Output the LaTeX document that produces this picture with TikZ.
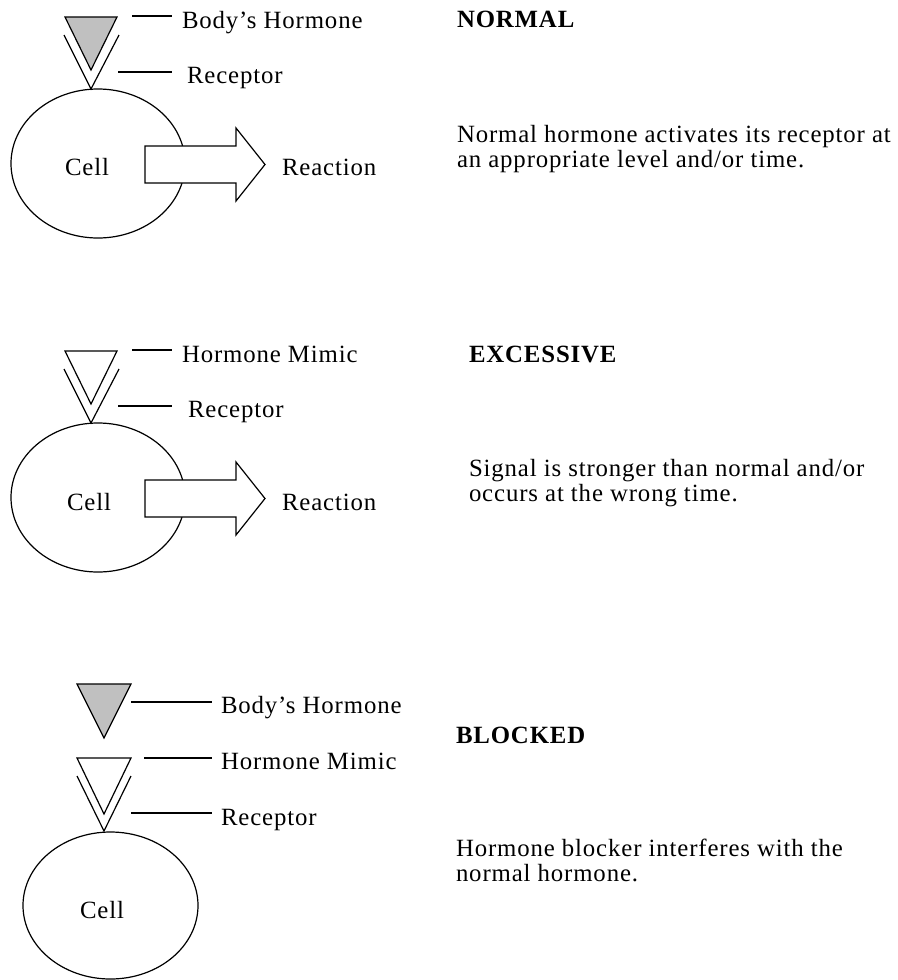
\documentclass[tikz,border=0pt]{standalone}
\usepackage{fontspec}
\setmainfont{Liberation Serif}[LetterSpace=3.5]
\usetikzlibrary{shapes.geometric}
\definecolor{hgray}{RGB}{192,192,192}
\begin{document}
\begin{tikzpicture}[x=0.5pt,y=-0.5pt,
  font=\fontsize{12.4}{12.5}\selectfont,
  lbl/.style={anchor=base west, inner sep=0pt, outer sep=0pt},
  headline/.style={lbl, font=\fontsize{12.4}{12.5}\selectfont\bfseries},
  cellshape/.style={ellipse, draw, line width=0.6pt, inner sep=0pt,
    minimum width=87pt, minimum height=74.5pt},
  hormone/.style={draw, fill=hgray, line width=0.6pt, line join=miter},
  mimic/.style={draw, fill=white, line width=0.6pt, line join=miter},
  recep/.style={draw, line width=0.6pt, line join=miter},
  tagline/.style={draw, line width=0.6pt},
  rarrow/.style={draw, fill=white, line width=0.6pt, line join=miter}]
\useasboundingbox (0,0) rectangle (898,980);

% ---------------- NORMAL ----------------
\node[cellshape] (cellA) at (98,163.5) {};
\draw[rarrow] (145,146) -- (236,146) -- (236,128) -- (265,164.5) -- (236,201) -- (236,183) -- (145,183) -- cycle;
\draw[hormone] (65,17) -- (117,17) -- (91,70) -- cycle;
\draw[recep] (64,35) -- (91,89) -- (119,35);
\coordinate (hA1) at (132,16); \coordinate (hA2) at (172,16);
\coordinate (rA1) at (118,72); \coordinate (rA2) at (172,72);
\draw[tagline] (hA1) -- (hA2);
\draw[tagline] (rA1) -- (rA2);
\node[lbl] (lhA) at (182,28) {Body’s Hormone};
\node[lbl] (lrA) at (187,83) {Receptor};
\node[lbl] (lcA) at (65,175) {Cell};
\node[lbl] (lxA) at (282,175) {Reaction};
\node[headline] (tA) at (457,27) {NORMAL};
\node[lbl] (dA1) at (457,142) {Normal hormone activates its receptor at};
\node[lbl] (dA2) at (457,167) {an appropriate level and/or time.};

% ---------------- EXCESSIVE ----------------
\node[cellshape] (cellB) at (98,497.5) {};
\draw[rarrow] (145,480) -- (236,480) -- (236,462) -- (265,498.5) -- (236,535) -- (236,517) -- (145,517) -- cycle;
\draw[mimic] (65,351) -- (117,351) -- (91,404) -- cycle;
\draw[recep] (64,369) -- (91,423) -- (119,369);
\coordinate (hB1) at (132,350); \coordinate (hB2) at (172,350);
\coordinate (rB1) at (118,406); \coordinate (rB2) at (172,406);
\draw[tagline] (hB1) -- (hB2);
\draw[tagline] (rB1) -- (rB2);
\node[lbl] (lhB) at (182,362) {Hormone Mimic};
\node[lbl] (lrB) at (188,417) {Receptor};
\node[lbl] (lcB) at (67,510) {Cell};
\node[lbl] (lxB) at (282,510) {Reaction};
\node[headline] (tB) at (469,362) {EXCESSIVE};
\node[lbl] (dB1) at (469,476) {Signal is stronger than normal and/or};
\node[lbl] (dB2) at (469,501) {occurs at the wrong time.};

% ---------------- BLOCKED ----------------
\node[cellshape, minimum width=87.5pt, minimum height=73.5pt] (cellC) at (110.5,905.5) {};
\draw[hormone] (77,684) -- (131,684) -- (104,738) -- cycle;
\draw[mimic] (77,758) -- (131,758) -- (104,814) -- cycle;
\draw[recep] (77,776) -- (104,831) -- (131,776);
\coordinate (hC1) at (131,702); \coordinate (hC2) at (212,702);
\coordinate (mC1) at (144,758); \coordinate (mC2) at (212,758);
\coordinate (rC1) at (131,813); \coordinate (rC2) at (212,813);
\draw[tagline] (hC1) -- (hC2);
\draw[tagline] (mC1) -- (mC2);
\draw[tagline] (rC1) -- (rC2);
\node[lbl] (lhC) at (221,713) {Body’s Hormone};
\node[lbl] (lmC) at (221,769) {Hormone Mimic};
\node[lbl] (lrC) at (221,825) {Receptor};
\node[lbl] (lcC) at (80,918) {Cell};
\node[headline] (tC) at (456,743) {BLOCKED};
\node[lbl] (dC1) at (456,856) {Hormone blocker interferes with the};
\node[lbl] (dC2) at (456,881) {normal hormone.};
\end{tikzpicture}
\end{document}
